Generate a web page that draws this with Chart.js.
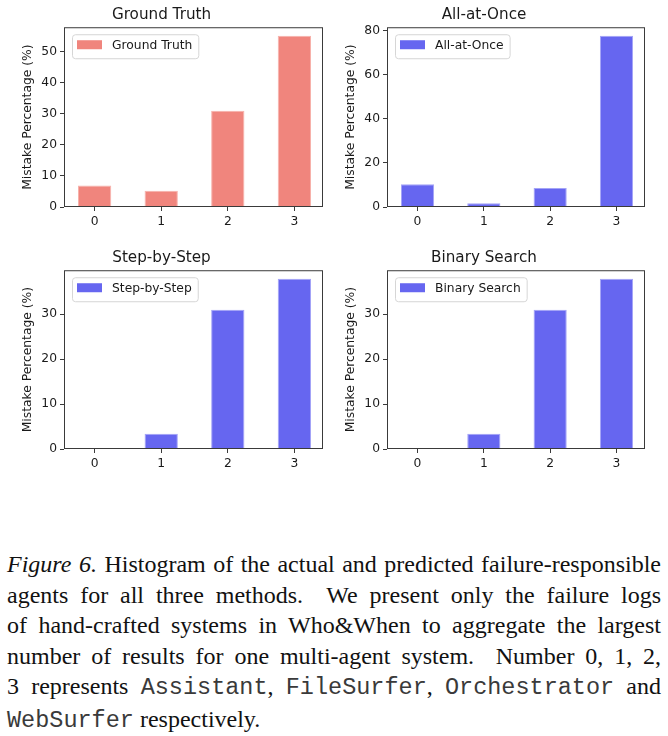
<!DOCTYPE html>
<html>
<head>
<meta charset="utf-8">
<script src="https://cdn.jsdelivr.net/npm/chart.js@4"></script>
<style>
    html, body { margin: 0; padding: 0; background: #fff; }
    body { width: 668px; height: 736px; position: relative; overflow: hidden; }
    .panel { position: absolute; }
    #caption {
        position: absolute;
        left: 7px;
        top: 549px;
        width: 654px;
        font-family: "Liberation Serif", "Times New Roman", serif;
        font-size: 24px;
        line-height: 30.6px;
        color: #111;
    }
    #caption .line { text-align: justify; text-align-last: justify; }
    #caption .line.last { text-align-last: left; }
    #caption code {
        font-family: "Liberation Mono", "Courier New", monospace;
        font-size: 23.5px;
        color: #3a3a3a;
    }
</style>
</head>
<body>
<div class="panel" style="left:0px;top:0px;width:334px;height:235px"><canvas id="c0"></canvas></div>
<div class="panel" style="left:323px;top:0px;width:345px;height:235px"><canvas id="c1"></canvas></div>
<div class="panel" style="left:0px;top:243px;width:334px;height:234px"><canvas id="c2"></canvas></div>
<div class="panel" style="left:323px;top:243px;width:345px;height:234px"><canvas id="c3"></canvas></div>

<div id="caption">
    <div class="line"><i>Figure 6.</i> Histogram of the actual and predicted failure-responsible</div>
    <div class="line">agents for all three methods.&nbsp; We present only the failure logs</div>
    <div class="line">of hand-crafted systems in Who&amp;When to aggregate the largest</div>
    <div class="line">number of results for one multi-agent system.&nbsp; Number 0, 1, 2,</div>
    <div class="line">3 represents <code>Assistant</code>, <code>FileSurfer</code>, <code>Orchestrator</code> and</div>
    <div class="line last"><code>WebSurfer</code> respectively.</div>
</div>

<script>
const categories = ['0', '1', '2', '3'];
const groundTruth = [6.9, 5.2, 31.0, 55.2];
const allAtOnce = [10.3, 1.7, 8.6, 77.6];
const stepByStep = [0, 3.4, 31.0, 37.9];
const binarySearch = [0, 3.4, 31.0, 37.9];
const panelTitles = ['Ground Truth', 'All-at-Once', 'Step-by-Step', 'Binary Search'];
const yTickSteps = [10, 20, 10, 10];

const SALMON = '#f0857d';
const SALMON_EDGE = '#f7b2ac';
const BLUE = '#6666f0';
const BLUE_EDGE = '#a4a4f7';

Chart.defaults.font.family = '"DejaVu Sans", sans-serif';
Chart.defaults.font.size = 12.3;
Chart.defaults.color = '#1a1a1a';

// matplotlib style frame + legend box in the upper left corner
const frameAndLegend = {
    id: 'frameAndLegend',
    afterDatasetsDraw(chart) {
        const { ctx, chartArea: a } = chart;
        const ds = chart.data.datasets[0];
        ctx.save();
        ctx.strokeStyle = '#3a3a3a';
        ctx.lineWidth = 1;
        ctx.strokeRect(a.left + 0.5, a.top + 0.5, a.width - 1, a.height - 1);

        ctx.font = '12.3px "DejaVu Sans"';
        const tw = ctx.measureText(ds.label).width;
        const x = a.left + 8;
        const y = a.top + 7;
        const w = 40 + tw + 6;
        const h = 24;
        ctx.beginPath();
        ctx.roundRect(x + 0.5, y + 0.5, w, h, 3);
        ctx.fillStyle = 'rgba(255,255,255,0.85)';
        ctx.fill();
        ctx.strokeStyle = '#d6d6d6';
        ctx.stroke();
        ctx.fillStyle = ds.backgroundColor;
        ctx.fillRect(x + 5, y + 6, 25, 9);
        ctx.fillStyle = '#1a1a1a';
        ctx.textBaseline = 'middle';
        ctx.fillText(ds.label, x + 40, y + h / 2);
        ctx.restore();
    },
};

const makePanel = (id, title, values, color, edge, step, padRight) => {
    const ctx = document.getElementById(id).getContext('2d');
    return new Chart(ctx, {
        type: 'bar',
        data: {
            datasets: [
                {
                    label: title,
                    data: values.map((v, i) => ({ x: i, y: v })),
                    backgroundColor: color,
                    borderColor: edge,
                    borderWidth: 1,
                    borderSkipped: 'start',
                    barPercentage: 0.5,
                    categoryPercentage: 1.0,
                },
            ],
        },
        options: {
            responsive: true,
            maintainAspectRatio: false,
            animation: false,
            layout: { padding: { left: 0, right: padRight, top: 0, bottom: 0 } },
            plugins: {
                legend: { display: false },
                tooltip: { enabled: false },
                title: {
                    display: true,
                    text: title,
                    color: '#1a1a1a',
                    font: { size: 15.2, weight: 'normal' },
                    padding: { top: 6, bottom: 3 },
                },
            },
            scales: {
                x: {
                    type: 'linear',
                    min: -0.46,
                    max: categories.length - 1 + 0.43,
                    offset: false,
                    afterBuildTicks: (axis) => {
                        axis.ticks = categories.map((c, i) => ({ value: i }));
                    },
                    afterFit: (axis) => {
                        axis.height = 28;
                    },
                    ticks: {
                        padding: 3,
                        maxRotation: 0,
                        callback: (val) => categories[val],
                    },
                    grid: {
                        offset: false,
                        drawOnChartArea: false,
                        drawTicks: true,
                        tickLength: 4,
                        color: '#3a3a3a',
                    },
                    border: { display: false },
                },
                y: {
                    min: 0,
                    max: Math.max(...values) * 1.05,
                    afterFit: (axis) => {
                        axis.width = 64;
                    },
                    ticks: {
                        stepSize: step,
                        includeBounds: false,
                        padding: 3,
                    },
                    grid: {
                        drawOnChartArea: false,
                        drawTicks: true,
                        tickLength: 4,
                        color: '#3a3a3a',
                    },
                    border: { display: false },
                    title: {
                        display: true,
                        text: 'Mistake Percentage (%)',
                        color: '#1a1a1a',
                        font: { size: 12.3 },
                        padding: { top: 20, bottom: 0 },
                    },
                },
            },
        },
        plugins: [frameAndLegend],
    });
};

makePanel('c0', panelTitles[0], groundTruth, SALMON, SALMON_EDGE, yTickSteps[0], 11);
makePanel('c1', panelTitles[1], allAtOnce, BLUE, BLUE_EDGE, yTickSteps[1], 23);
makePanel('c2', panelTitles[2], stepByStep, BLUE, BLUE_EDGE, yTickSteps[2], 11);
makePanel('c3', panelTitles[3], binarySearch, BLUE, BLUE_EDGE, yTickSteps[3], 23);
</script>
</body>
</html>
